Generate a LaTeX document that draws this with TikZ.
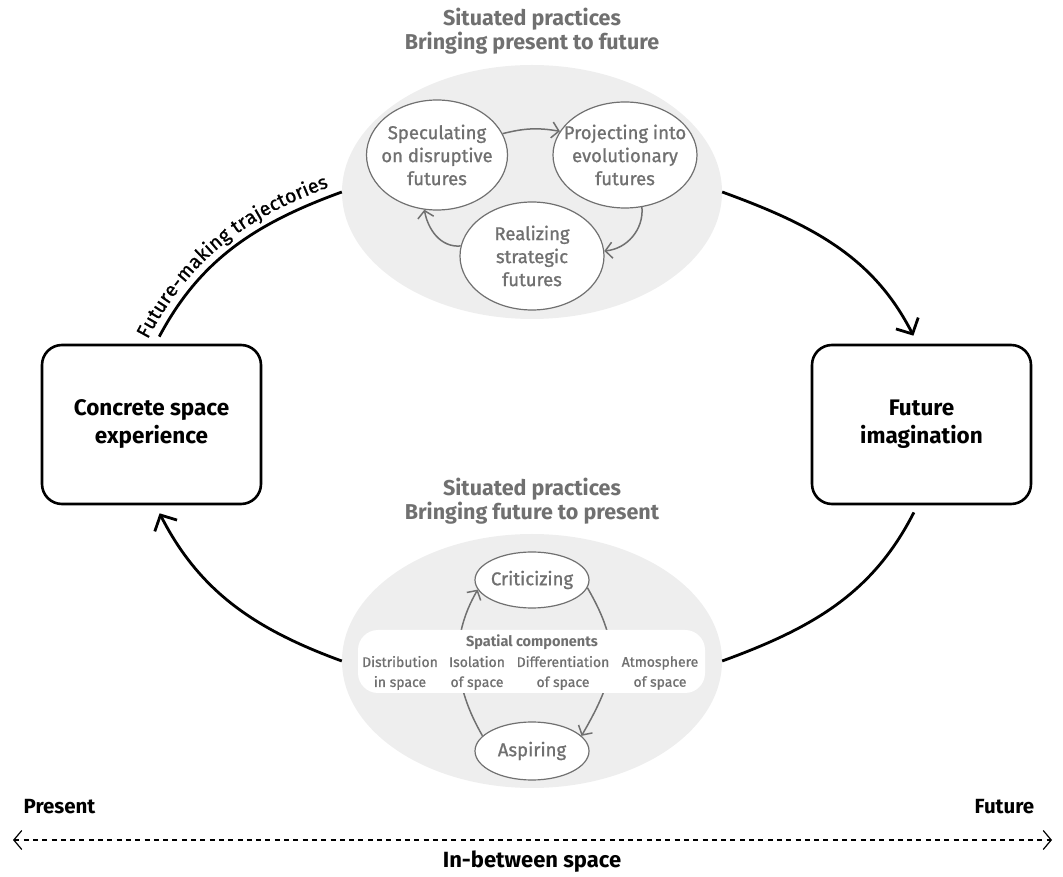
\documentclass[tikz,border=0pt]{standalone}
\usepackage{fontspec}
\setmainfont{Fira Sans}
\newfontfamily\medfont[FakeBold=1.0]{Fira Sans}
\usetikzlibrary{arrows.meta,decorations.text,shapes.geometric}
\definecolor{tgray}{RGB}{112,112,112}
\definecolor{bgray}{RGB}{238,238,238}
\begin{document}
\begin{tikzpicture}[x=1pt,y=1pt,
  bigbox/.style={draw=black, line width=2.6pt, rounded corners=20pt, minimum width=219pt, minimum height=159pt, align=center, font=\fontsize{22.5}{28}\selectfont\bfseries},
  grayell/.style={ellipse, fill=bgray, minimum width=380pt, minimum height=254pt, inner sep=0pt},
  smallell/.style={ellipse, draw=tgray, line width=1.2pt, fill=white, inner sep=0pt},
  smalltxt/.style={text=tgray, align=center, font=\fontsize{18.5}{23}\selectfont\medfont},
  titletxt/.style={text=tgray, align=center, font=\fontsize{21.5}{23.5}\selectfont\bfseries},
  comptxt/.style={text=tgray, align=center, font=\fontsize{14}{20}\selectfont\medfont},
  traj/.style={line width=2.8pt, draw=black},
  bigtip/.style={-{Straight Barb[length=12pt,width=25pt]}},
  inner/.style={line width=1.5pt, draw=tgray, -{Straight Barb[length=7pt,width=16pt]}},
  axislabel/.style={font=\fontsize{20.5}{22}\selectfont\bfseries},
]
\useasboundingbox (0,0) rectangle (1063,876);

% main boxes
\node[bigbox] (cse) at (151.5,451.5) {Concrete space\\experience};
\node[bigbox] (fi) at (921.5,451.5) {Future\\imagination};

% gray ellipses
\node[grayell] (tg) at (532,684) {};
\node[grayell] (bg) at (532,215) {};

% titles
\node[titletxt] (ttop) at (532,845) {Situated practices\\Bringing present to future};
\node[titletxt] (tbot) at (532,375) {Situated practices\\Bringing future to present};

% top cycle
\node[smallell, minimum width=141pt, minimum height=110pt] (spec) at (437,721) {};
\node[smallell, minimum width=144pt, minimum height=106pt] (proj) at (625,721) {};
\node[smallell, minimum width=144pt, minimum height=108pt] (real) at (532,620) {};
\node[smalltxt] (spect) at (spec) {Speculating\\on disruptive\\futures};
\node[smalltxt] (projt) at (proj) {Projecting into\\evolutionary\\futures};
\node[smalltxt] (realt) at (real) {Realizing\\strategic\\futures};
\draw[inner] (spec.18) to[bend left=12] (proj.160);
\draw[inner] (proj.-72) to[out=-85,in=5] (real.4);
\draw[inner] (real.172) to[out=185,in=280] (spec.-103);

% bottom cycle
\node[smallell, minimum width=114pt, minimum height=56pt] (crit) at (532,296) {};
\node[smallell, minimum width=114pt, minimum height=58pt] (asp) at (532,125) {};
\node[smalltxt] (critt) at (crit) {Criticizing};
\node[smalltxt] (aspt) at (asp) {Aspiring};
\draw[inner] (asp.163) to[out=120,in=240] (crit.190);
\draw[inner] (crit.-8) to[out=-60,in=60,looseness=1.2] (asp.17);

% spatial components band
\node[fill=white, rounded corners=20pt, minimum width=347pt, minimum height=63pt] (band) at (531.5,214.5) {};
\node[comptxt, font=\fontsize{14.5}{20}\selectfont\bfseries] (sct) at (532,234) {Spatial components};
\node[comptxt] (c1) at (400,203) {Distribution\\in space};
\node[comptxt] (c2) at (477,203) {Isolation\\of space};
\node[comptxt] (c3) at (563,203) {Differentiation\\of space};
\node[comptxt] (c4) at (660,203) {Atmosphere\\of space};

% trajectories
\draw[traj, shorten <=8pt,
  postaction={decorate, decoration={text along path, raise=9pt, text align=left,
  text={|\fontsize{19.5}{20}\medfont|Future-making  trajectories}}}]
  ([xshift=4pt]cse.north) to[out=62,in=200] (tg.west);
\draw[traj, bigtip, shorten >=9pt] (tg.east) to[out=-20,in=117] ([xshift=-4pt]fi.north);
\draw[traj, shorten <=8pt] ([xshift=-4pt]fi.south) to[out=243,in=20] (bg.east);
\draw[traj, bigtip, shorten >=9pt] (bg.west) to[out=160,in=297] ([xshift=4pt]cse.south);

% bottom axis
\node[axislabel] (present) at (59.5,69) {Present};
\node[axislabel] (future) at (1004.5,69) {Future};
\coordinate (al) at (13,36);
\coordinate (ar) at (1052,36);
\draw[line width=1.2pt, dash pattern=on 5pt off 4.3pt,
  {Straight Barb[length=8pt,width=19pt]}-{Straight Barb[length=8pt,width=19pt]}] (al) -- (ar);
\node[font=\fontsize{22}{24}\selectfont\bfseries] (inbetween) at (532,14) {In-between space};
\end{tikzpicture}
\end{document}
